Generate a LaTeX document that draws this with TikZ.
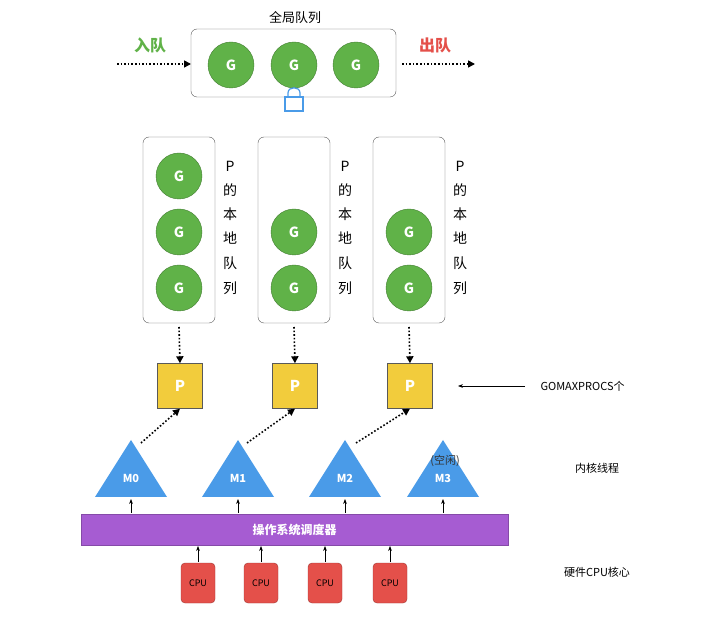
\documentclass[tikz,border=0pt]{standalone}
\usepackage{fontspec}
\setmainfont{Noto Sans CJK SC}
\usetikzlibrary{arrows.meta,shapes.geometric}
\definecolor{gg}{RGB}{96,178,72}
\definecolor{yy}{RGB}{242,204,60}
\definecolor{bb}{RGB}{74,155,232}
\definecolor{pp}{RGB}{166,92,210}
\definecolor{rr}{RGB}{228,80,74}
\begin{document}
\begin{tikzpicture}[x=1pt,y=-1pt,
 g/.style={circle,fill=gg,draw=gg!70!black,minimum size=46pt,inner sep=0pt,text=white,font=\bfseries\fontsize{14}{14}\selectfont},
 q/.style={draw=gray!70!black,rounded corners=6pt},
 pb/.style={fill=yy,draw=gray!70!black,minimum size=45pt,inner sep=0pt,text=white,font=\bfseries\fontsize{15}{15}\selectfont},
 dot/.style={dotted,line width=1.6pt,-{Triangle[length=7pt,width=7pt]}},
 sol/.style={line width=0.7pt,-{Stealth[length=5pt]}},
 cpu/.style={fill=rr,draw=rr!70!black,rounded corners=4pt,minimum width=34pt,minimum height=40pt,inner sep=0pt,font=\fontsize{9}{9}\selectfont},
 lbl/.style={font=\fontsize{11}{11}\selectfont},
 vt/.style={font=\fontsize{14}{14}\selectfont}]
\useasboundingbox (0,0) rectangle (713,620);
% global queue
\node[font=\fontsize{13}{13}\selectfont] (gt) at (295,18) {全局队列};
\draw[q] (191,29) rectangle (396,97);
\coordinate (gl) at (191,64); \coordinate (gr) at (396,64);
\node[g] (g1) at (231,65) {G};
\node[g] (g2) at (294,65) {G};
\node[g] (g3) at (356,65) {G};
\draw[bb,line width=1.2pt] (288,97) -- (288,93) .. controls (288,86) and (300,86) .. (300,93) -- (300,97);
\draw[bb,line width=1.2pt,fill=white] (285,97) rectangle (303,111);
\node[text=gg,font=\bfseries\fontsize{16}{16}\selectfont] (in) at (150,45) {入队};
\node[text=rr,font=\bfseries\fontsize{16}{16}\selectfont] (out) at (435,45) {出队};
\coordinate (ia) at (117,64); \coordinate (ob) at (475,64);
\draw[dot] (ia) -- (gl);
\draw[dot] (402,64) -- (ob);
% local queues
\foreach \i/\x in {1/179,2/294,3/409}{
 \draw[q] (\x-36,137) rectangle (\x+36,323);
 \coordinate (lb\i) at (\x,327);
 \node[g] at (\x,232) {G};
 \node[g] at (\x,288) {G};
 \foreach \c/\yy in {P/166,的/190,本/214,地/238,队/263,列/288}
   \node[vt] at (\x+51,\yy) {\c};
 \node[pb] (p\i) at (\x+1,386) {P};
 \draw[dot] (lb\i) -- (p\i.north);
}
\node[g] at (179,176) {G};
% GOMAXPROCS
\node[lbl,anchor=west] (gm) at (537,386) {GOMAXPROCS个};
\coordinate (ga) at (525,386);
\draw[sol] (ga) -- (458,386);
% M triangles
\foreach \i/\x in {0/131,1/238,2/345,3/443}{
 \fill[bb] (\x,440) -- (\x+36,497) -- (\x-36,497) -- cycle;
 \node[text=white,font=\bfseries\fontsize{11}{11}\selectfont] (m\i) at (\x,478) {M\i};
 \coordinate (mt\i) at (\x,440);
 \coordinate (mb\i) at (\x,499);
 \draw[sol] (\x,513) -- (mb\i);
}
\node[lbl,text=black!80] at (445,461) {(空闲)};
\draw[dot] (141,443) -- (p1.south);
\draw[dot] (247,443) -- (p2.south);
\draw[dot] (356,443) -- (p3.south);
% scheduler
\node[fill=pp,draw=pp!80!black,minimum width=427pt,minimum height=31pt,text=white,font=\bfseries\fontsize{12}{12}\selectfont] (os) at (294.5,529.5) {操作系统调度器};
\node[lbl] (kt) at (597,468) {内核线程};
\node[lbl] (hw) at (597,572) {硬件CPU核心};
\foreach \i/\x in {1/198,2/261,3/325,4/390}{
 \node[cpu] (c\i) at (\x,583) {CPU};
 \draw[sol] (c\i.north) ++(0,-1) -- (\x,546);
}
\end{tikzpicture}
\end{document}
